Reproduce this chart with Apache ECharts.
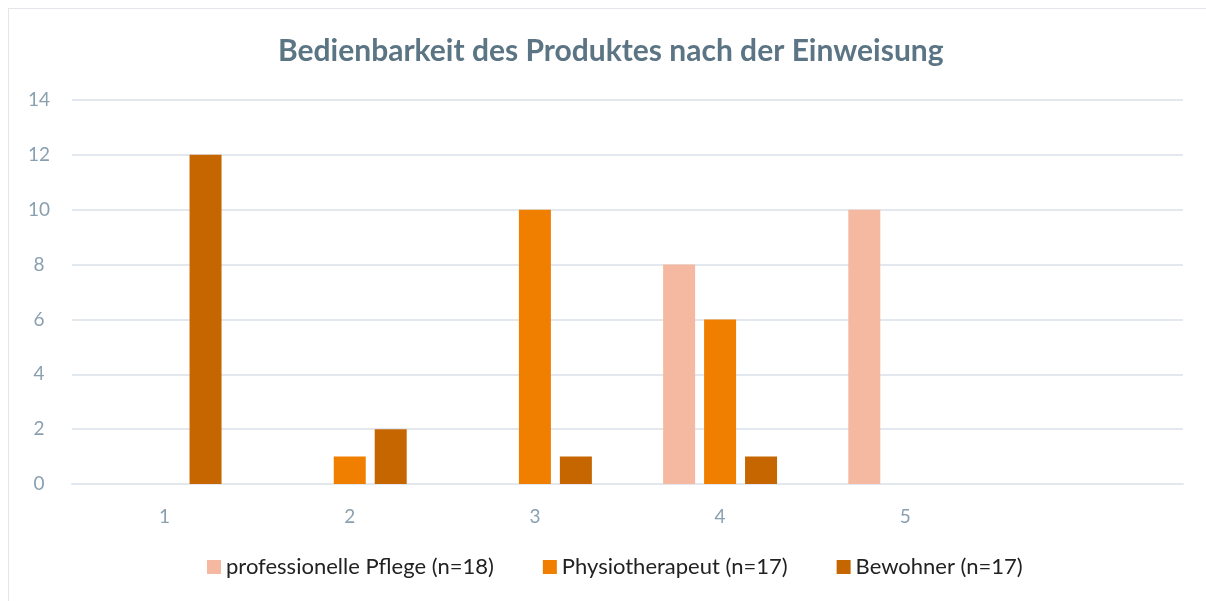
<!DOCTYPE html>
<html>
<head>
<meta charset="utf-8">
<script src="https://cdn.jsdelivr.net/npm/echarts@6/dist/echarts.min.js"></script>
<style>
    html, body { margin: 0; padding: 0; background: #fff; overflow: hidden; }
    .frame { position: absolute; left: 8px; top: 8px; width: 1300px; height: 700px; border: 1px solid #e3e7ec; }
    .bar { position: absolute; left: 0; top: 0; width: 1206px; height: 601px; }
</style>
</head>
<body>
<div class="frame"></div>
<div class="bar"></div>
<script>
// Bedienbarkeit nach der Einweisung
const categories = ['1', '2', '3', '4', '5', '']
const pflege = [0, 0, 0, 8, 10, 0]
const physio = [0, 1, 10, 6, 0, 0]
const bewohner = [12, 2, 1, 1, 0, 0]

;(function () {
    const myChart = echarts.init(document.querySelector('.bar'))
    const font = 'Lato'
    const option = {
        title: {
            text: 'Bedienbarkeit des Produktes nach der Einweisung',
            left: 273,
            top: 31,
            textStyle: {
                color: '#5b7584',
                fontSize: 30,
                fontWeight: 'bold',
                fontFamily: font
            }
        },
        legend: {
            bottom: 18,
            left: 202,
            itemWidth: 14,
            itemHeight: 14,
            itemGap: 49,
            icon: 'rect',
            textStyle: {
                color: '#222',
                fontSize: 22,
                fontFamily: font
            }
        },
        grid: {
            left: 72,
            right: 23,
            top: 100,
            bottom: 117
        },
        xAxis: {
            type: 'category',
            data: categories,
            axisLine: { lineStyle: { color: '#e3e8ee', width: 2 } },
            axisTick: { show: false },
            axisLabel: { color: '#8aa0b0', fontSize: 19, margin: 23, fontFamily: font }
        },
        yAxis: {
            type: 'value',
            min: 0,
            max: 14,
            interval: 2,
            splitLine: { lineStyle: { color: '#e3e8ee', width: 2 } },
            axisLabel: { color: '#8aa0b0', fontSize: 19, margin: 33, fontFamily: font, align: 'center' }
        },
        series: [
            {
                name: 'professionelle Pflege (n=18)',
                type: 'bar',
                data: pflege,
                barWidth: 32,
                barGap: '28%',
                itemStyle: { color: '#f4b9a0' }
            },
            {
                name: 'Physiotherapeut (n=17)',
                type: 'bar',
                data: physio,
                barWidth: 32,
                barGap: '28%',
                itemStyle: { color: '#f07f00' }
            },
            {
                name: 'Bewohner (n=17)',
                type: 'bar',
                data: bewohner,
                barWidth: 32,
                barGap: '28%',
                itemStyle: { color: '#c66600' }
            }
        ]
    }
    myChart.setOption(option)
})()
</script>
</body>
</html>
